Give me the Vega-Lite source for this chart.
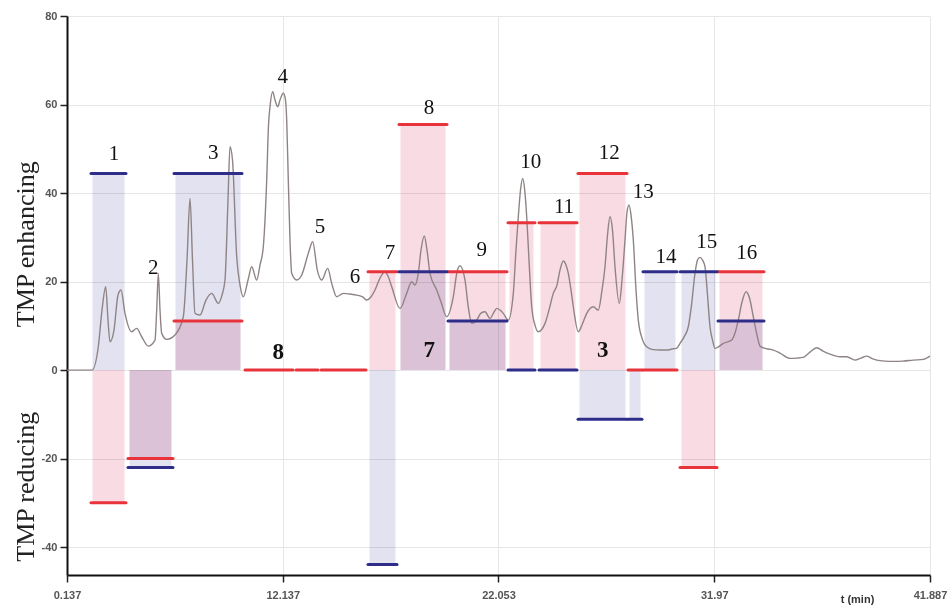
{
  "$schema": "https://vega.github.io/schema/vega-lite/v6.json",
  "width": 863,
  "height": 559,
  "autosize": {"type": "none"},
  "padding": {"left": 67, "top": 16, "right": 17, "bottom": 30},
  "background": "white",
  "config": {
    "view": {"stroke": null},
    "axis": {
      "labelFont": "Liberation Sans",
      "labelFontSize": 11,
      "labelFontWeight": "bold",
      "labelColor": "#555555",
      "domainColor": "#111111",
      "domainWidth": 2,
      "tickColor": "#222222",
      "tickWidth": 1.5,
      "gridColor": "#e6e6e6",
      "gridWidth": 1
    }
  },
  "datasets": {
    "bars": [
      {"id": "1", "t0": 3.323, "t1": 4.932, "red": -30, "blue": 44.4},
      {"id": "2", "t0": 5.024, "t1": 7.092, "red": -20, "blue": -22},
      {"id": "3", "t0": 7.138, "t1": 10.264, "red": 11.1, "blue": 44.4},
      {"id": "8a", "t0": 10.402, "t1": 12.608, "red": 0, "blue": null},
      {"id": "8b", "t0": 12.746, "t1": 13.757, "red": 0, "blue": null},
      {"id": "8c", "t0": 13.895, "t1": 15.963, "red": 0, "blue": null},
      {"id": "6-7", "t0": 16.055, "t1": 17.388, "red": 22.2, "blue": -43.9},
      {"id": "8", "t0": 17.48, "t1": 19.686, "red": 55.5, "blue": 22.2},
      {"id": "9", "t0": 19.732, "t1": 22.444, "red": 22.2, "blue": 11.1},
      {"id": "10", "t0": 22.49, "t1": 23.731, "red": 33.3, "blue": 0},
      {"id": "11", "t0": 23.915, "t1": 25.662, "red": 33.3, "blue": 0},
      {"id": "12", "t0": 25.708, "t1": 27.96, "red": 44.4, "blue": -11.1},
      {"id": "13", "t0": 28.006, "t1": 28.649, "red": 0, "blue": -11.1},
      {"id": "14", "t0": 28.695, "t1": 30.258, "red": 0, "blue": 22.2},
      {"id": "15", "t0": 30.396, "t1": 32.097, "red": -22, "blue": 22.2},
      {"id": "16", "t0": 32.143, "t1": 34.257, "red": 22.2, "blue": 11.1}
    ],
    "labels": [
      {"label": "1", "t": 4.38, "v": 48.8, "bold": false},
      {"label": "2", "t": 6.187, "v": 22.98, "bold": false},
      {"label": "3", "t": 8.945, "v": 48.97, "bold": false},
      {"label": "4", "t": 12.134, "v": 66.14, "bold": false},
      {"label": "5", "t": 13.849, "v": 32.39, "bold": false},
      {"label": "6", "t": 15.458, "v": 20.95, "bold": false},
      {"label": "7", "t": 17.066, "v": 26.37, "bold": false},
      {"label": "8", "t": 18.859, "v": 59.14, "bold": false},
      {"label": "9", "t": 21.281, "v": 27.12, "bold": false},
      {"label": "10", "t": 23.534, "v": 47.08, "bold": false},
      {"label": "11", "t": 25.064, "v": 36.77, "bold": false},
      {"label": "12", "t": 27.146, "v": 48.97, "bold": false},
      {"label": "13", "t": 28.709, "v": 40.3, "bold": false},
      {"label": "14", "t": 29.752, "v": 25.47, "bold": false},
      {"label": "15", "t": 31.623, "v": 29.0, "bold": false},
      {"label": "16", "t": 33.462, "v": 26.51, "bold": false},
      {"label": "8", "t": 11.932, "v": 4.14, "bold": true},
      {"label": "7", "t": 18.873, "v": 4.52, "bold": true},
      {"label": "3", "t": 26.843, "v": 4.52, "bold": true}
    ],
    "curve": [
      {"t": 2.22, "v": 0}, {"t": 3.369, "v": 0}, {"t": 3.659, "v": 5.27}, {"t": 3.829, "v": 13.56},
      {"t": 3.999, "v": 18.83}, {"t": 4.104, "v": 11.3}, {"t": 4.196, "v": 6.4}, {"t": 4.38, "v": 9.04},
      {"t": 4.564, "v": 16.95}, {"t": 4.702, "v": 18.08}, {"t": 4.886, "v": 12.81}, {"t": 5.194, "v": 8.66},
      {"t": 5.424, "v": 9.42}, {"t": 5.654, "v": 7.53}, {"t": 5.957, "v": 5.42}, {"t": 6.265, "v": 6.78},
      {"t": 6.343, "v": 13.56}, {"t": 6.417, "v": 21.85}, {"t": 6.495, "v": 13.56}, {"t": 6.573, "v": 8.29},
      {"t": 6.803, "v": 6.94}, {"t": 7.184, "v": 7.91}, {"t": 7.566, "v": 12.05}, {"t": 7.736, "v": 24.86},
      {"t": 7.874, "v": 38.8}, {"t": 7.988, "v": 24.86}, {"t": 8.103, "v": 12.81}, {"t": 8.333, "v": 12.43},
      {"t": 8.609, "v": 15.82}, {"t": 8.871, "v": 17.33}, {"t": 9.174, "v": 15.07}, {"t": 9.344, "v": 16.95},
      {"t": 9.482, "v": 20.34}, {"t": 9.62, "v": 38.42}, {"t": 9.712, "v": 50.46}, {"t": 9.827, "v": 47.46},
      {"t": 10.02, "v": 25.6}, {"t": 10.172, "v": 19.21}, {"t": 10.323, "v": 16.57}, {"t": 10.54, "v": 20.34},
      {"t": 10.71, "v": 23.35}, {"t": 10.939, "v": 20.34}, {"t": 11.091, "v": 23.73}, {"t": 11.243, "v": 27.87},
      {"t": 11.399, "v": 42.94}, {"t": 11.482, "v": 55.37}, {"t": 11.551, "v": 59.5}, {"t": 11.675, "v": 62.89},
      {"t": 11.781, "v": 61.02}, {"t": 11.905, "v": 59.5}, {"t": 12.01, "v": 61.02}, {"t": 12.162, "v": 62.53},
      {"t": 12.263, "v": 61.02}, {"t": 12.318, "v": 56.5}, {"t": 12.392, "v": 42.94}, {"t": 12.47, "v": 29.38},
      {"t": 12.548, "v": 21.85}, {"t": 12.778, "v": 20.34}, {"t": 13.008, "v": 21.47}, {"t": 13.311, "v": 26.37},
      {"t": 13.513, "v": 29.0}, {"t": 13.725, "v": 22.6}, {"t": 13.927, "v": 20.34}, {"t": 14.203, "v": 22.98},
      {"t": 14.387, "v": 19.59}, {"t": 14.616, "v": 16.57}, {"t": 14.92, "v": 17.33}, {"t": 15.228, "v": 17.18},
      {"t": 15.536, "v": 16.95}, {"t": 15.825, "v": 16.5}, {"t": 15.995, "v": 15.82}, {"t": 16.147, "v": 16.27},
      {"t": 16.377, "v": 18.08}, {"t": 16.607, "v": 20.79}, {"t": 16.837, "v": 22.22}, {"t": 16.974, "v": 21.24},
      {"t": 17.145, "v": 18.83}, {"t": 17.526, "v": 13.94}, {"t": 17.834, "v": 17.33}, {"t": 18.064, "v": 19.96},
      {"t": 18.215, "v": 19.21}, {"t": 18.367, "v": 21.85}, {"t": 18.491, "v": 27.12}, {"t": 18.643, "v": 30.28},
      {"t": 18.767, "v": 27.12}, {"t": 18.905, "v": 21.85}, {"t": 19.213, "v": 18.08}, {"t": 19.411, "v": 15.37},
      {"t": 19.673, "v": 12.05}, {"t": 19.976, "v": 16.57}, {"t": 20.146, "v": 22.15}, {"t": 20.284, "v": 23.57},
      {"t": 20.514, "v": 20.34}, {"t": 20.652, "v": 14.69}, {"t": 20.822, "v": 10.55}, {"t": 21.051, "v": 11.3},
      {"t": 21.249, "v": 12.88}, {"t": 21.433, "v": 13.18}, {"t": 21.663, "v": 11.68}, {"t": 21.847, "v": 13.11},
      {"t": 21.971, "v": 13.94}, {"t": 22.122, "v": 13.56}, {"t": 22.274, "v": 12.81}, {"t": 22.504, "v": 11.3},
      {"t": 22.734, "v": 17.33}, {"t": 22.858, "v": 27.12}, {"t": 22.964, "v": 34.65}, {"t": 23.065, "v": 40.68},
      {"t": 23.166, "v": 43.32}, {"t": 23.258, "v": 40.68}, {"t": 23.35, "v": 34.65}, {"t": 23.455, "v": 24.86},
      {"t": 23.579, "v": 14.31}, {"t": 23.731, "v": 10.17}, {"t": 23.883, "v": 8.66}, {"t": 24.191, "v": 10.55},
      {"t": 24.375, "v": 13.56}, {"t": 24.572, "v": 17.33}, {"t": 24.742, "v": 19.21}, {"t": 24.88, "v": 22.6},
      {"t": 25.032, "v": 24.63}, {"t": 25.156, "v": 23.73}, {"t": 25.262, "v": 21.85}, {"t": 25.386, "v": 18.08},
      {"t": 25.492, "v": 14.31}, {"t": 25.722, "v": 8.66}, {"t": 25.891, "v": 10.17}, {"t": 26.108, "v": 12.81},
      {"t": 26.411, "v": 14.31}, {"t": 26.641, "v": 13.56}, {"t": 26.811, "v": 18.08}, {"t": 26.949, "v": 23.35},
      {"t": 27.064, "v": 30.51}, {"t": 27.178, "v": 34.65}, {"t": 27.293, "v": 31.64}, {"t": 27.408, "v": 23.35},
      {"t": 27.606, "v": 15.07}, {"t": 27.73, "v": 20.34}, {"t": 27.868, "v": 29.38}, {"t": 27.96, "v": 35.71},
      {"t": 28.052, "v": 37.29}, {"t": 28.144, "v": 35.03}, {"t": 28.25, "v": 29.38}, {"t": 28.374, "v": 18.08},
      {"t": 28.479, "v": 11.3}, {"t": 28.649, "v": 7.23}, {"t": 28.865, "v": 5.27}, {"t": 29.155, "v": 4.63},
      {"t": 29.477, "v": 4.52}, {"t": 29.784, "v": 4.52}, {"t": 30.028, "v": 4.75}, {"t": 30.244, "v": 4.97},
      {"t": 30.396, "v": 6.03}, {"t": 30.58, "v": 7.46}, {"t": 30.777, "v": 9.79}, {"t": 30.925, "v": 14.69},
      {"t": 31.085, "v": 21.85}, {"t": 31.2, "v": 24.86}, {"t": 31.315, "v": 25.47}, {"t": 31.43, "v": 24.86},
      {"t": 31.545, "v": 23.35}, {"t": 31.66, "v": 16.95}, {"t": 31.775, "v": 9.79}, {"t": 31.89, "v": 6.78},
      {"t": 32.005, "v": 4.9}, {"t": 32.143, "v": 5.2}, {"t": 32.386, "v": 6.03}, {"t": 32.772, "v": 6.78},
      {"t": 32.924, "v": 8.36}, {"t": 33.076, "v": 11.3}, {"t": 33.246, "v": 15.37}, {"t": 33.43, "v": 17.7},
      {"t": 33.591, "v": 16.27}, {"t": 33.765, "v": 12.05}, {"t": 33.935, "v": 7.91}, {"t": 34.073, "v": 5.42},
      {"t": 34.349, "v": 4.86}, {"t": 34.684, "v": 4.52}, {"t": 34.993, "v": 3.84}, {"t": 35.452, "v": 2.64},
      {"t": 35.774, "v": 2.71}, {"t": 36.064, "v": 2.87}, {"t": 36.371, "v": 4.07}, {"t": 36.679, "v": 5.04},
      {"t": 36.969, "v": 4.29}, {"t": 37.29, "v": 3.62}, {"t": 37.75, "v": 3.01}, {"t": 38.058, "v": 3.01},
      {"t": 38.44, "v": 2.26}, {"t": 38.716, "v": 2.71}, {"t": 38.978, "v": 3.16}, {"t": 39.221, "v": 2.6},
      {"t": 39.437, "v": 2.26}, {"t": 39.819, "v": 2.03}, {"t": 40.2, "v": 1.97}, {"t": 40.646, "v": 2.03},
      {"t": 41.12, "v": 2.26}, {"t": 41.579, "v": 2.42}, {"t": 41.887, "v": 3.16}
    ]
  },
  "layer": [
    {
      "data": {"name": "bars"},
      "mark": {"type": "rect", "fill": "#f9dbe4", "blend": "multiply", "xOffset": 1.5, "x2Offset": -1.5},
      "encoding": {
        "x": {
          "field": "t0", "type": "quantitative",
          "scale": {"domain": [2.22, 41.887], "nice": false, "zero": false},
          "axis": {
            "values": [2.22, 12.137, 22.053, 31.97, 41.887],
            "labelExpr": "datum.value < 3 ? '0.137' : '' + datum.value",
            "labelFlush": false, "labelOverlap": false, "labelBound": false,
            "tickSize": 7, "labelPadding": 7, "grid": true,
            "title": "t (min)", "titleFont": "Liberation Sans", "titleFontSize": 11,
            "titleFontWeight": "bold", "titleColor": "#333333",
            "titleX": 790, "titleY": 27, "titleAlign": "center", "titleBaseline": "alphabetic"
          }
        },
        "x2": {"field": "t1"},
        "y": {
          "field": "red", "type": "quantitative",
          "scale": {"domain": [-46.3, 80], "nice": false, "zero": false},
          "axis": {
            "values": [-40, -20, 0, 20, 40, 60, 80],
            "labelExpr": "'' + datum.value",
            "tickSize": 7, "labelPadding": 3, "grid": true,
            "title": "TMP reducing\u00a0\u00a0\u00a0\u00a0\u00a0\u00a0\u00a0\u00a0\u00a0\u00a0\u00a0\u00a0\u00a0TMP enhancing",
            "titleFont": "Liberation Serif", "titleFontSize": 26, "titleFontWeight": "normal",
            "titleColor": "#222222", "titleX": -34, "titleY": 345, "titleAngle": -90,
            "titleAlign": "center", "titleBaseline": "alphabetic"
          }
        },
        "y2": {"datum": 0}
      }
    },
    {
      "data": {"name": "bars"},
      "transform": [{"filter": "datum.blue != null"}],
      "mark": {"type": "rect", "fill": "#e2e2f1", "blend": "multiply", "xOffset": 1.5, "x2Offset": -1.5},
      "encoding": {
        "x": {"field": "t0", "type": "quantitative"},
        "x2": {"field": "t1"},
        "y": {"field": "blue", "type": "quantitative"},
        "y2": {"datum": 0}
      }
    },
    {
      "mark": {"type": "rule", "color": "#6f6262", "strokeWidth": 1.5},
      "encoding": {"y": {"datum": 0, "type": "quantitative"}}
    },
    {
      "data": {"name": "curve"},
      "mark": {"type": "line", "color": "#8f8484", "strokeWidth": 1.4, "interpolate": "monotone"},
      "encoding": {
        "x": {"field": "t", "type": "quantitative"},
        "y": {"field": "v", "type": "quantitative"}
      }
    },
    {
      "data": {"name": "bars"},
      "mark": {"type": "rule", "color": "#e8333a", "strokeWidth": 3, "strokeCap": "round"},
      "encoding": {
        "x": {"field": "t0", "type": "quantitative"},
        "x2": {"field": "t1"},
        "y": {"field": "red", "type": "quantitative"}
      }
    },
    {
      "data": {"name": "bars"},
      "transform": [{"filter": "datum.blue != null"}],
      "mark": {"type": "rule", "color": "#2e2e8a", "strokeWidth": 3, "strokeCap": "round"},
      "encoding": {
        "x": {"field": "t0", "type": "quantitative"},
        "x2": {"field": "t1"},
        "y": {"field": "blue", "type": "quantitative"}
      }
    },
    {
      "data": {"name": "labels"},
      "transform": [{"filter": "!datum.bold"}],
      "mark": {"type": "text", "font": "Liberation Serif", "fontSize": 21, "color": "#111111", "align": "center", "baseline": "middle"},
      "encoding": {
        "x": {"field": "t", "type": "quantitative"},
        "y": {"field": "v", "type": "quantitative"},
        "text": {"field": "label"}
      }
    },
    {
      "data": {"name": "labels"},
      "transform": [{"filter": "datum.bold"}],
      "mark": {"type": "text", "font": "Liberation Serif", "fontSize": 23, "fontWeight": "bold", "color": "#111111", "align": "center", "baseline": "middle"},
      "encoding": {
        "x": {"field": "t", "type": "quantitative"},
        "y": {"field": "v", "type": "quantitative"},
        "text": {"field": "label"}
      }
    }
  ]
}
